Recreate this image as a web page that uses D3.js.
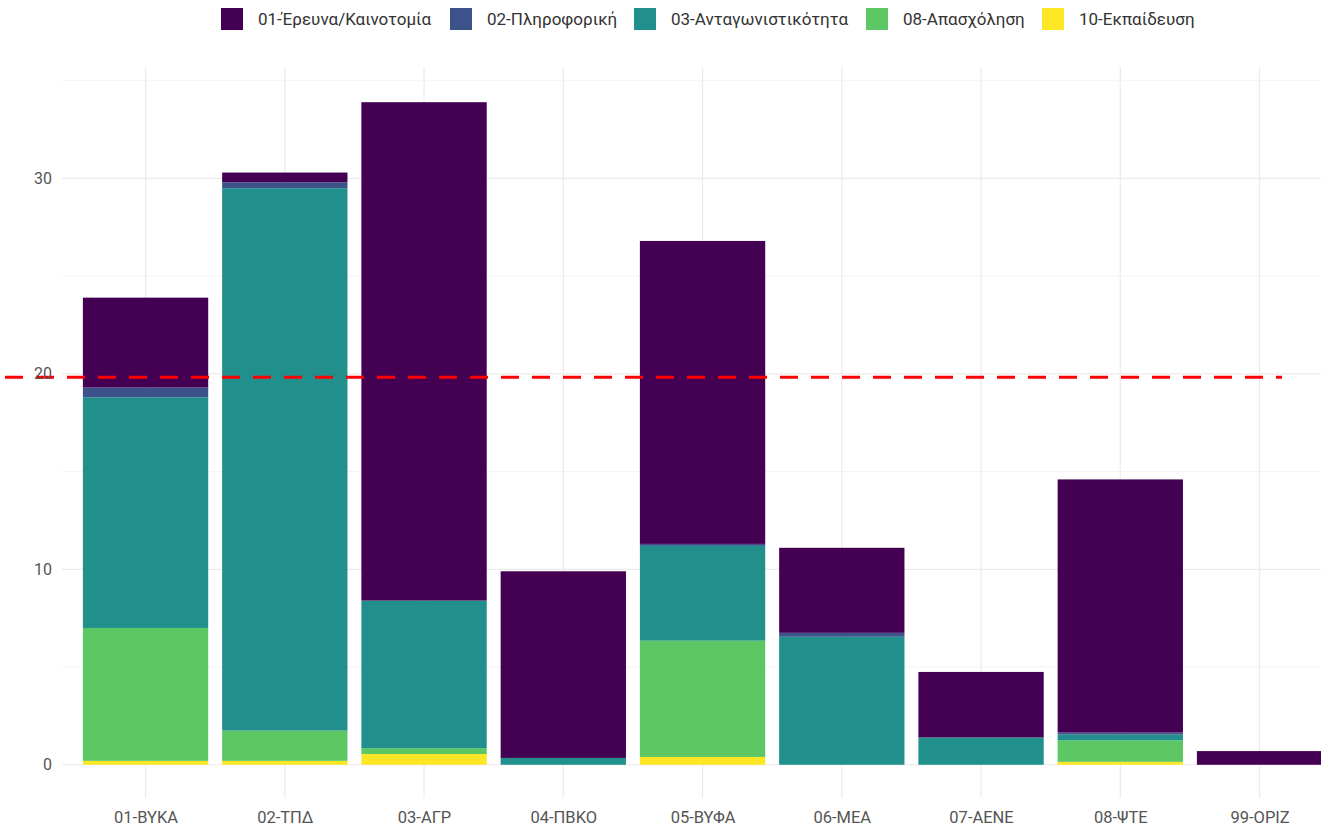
<!DOCTYPE html>
<html>
<head>
<meta charset="utf-8">
<script src="https://cdn.jsdelivr.net/npm/d3@7"></script>
<style>
  html, body { margin: 0; padding: 0; background: #fff; }
  svg { display: block; font-family: Roboto, "Noto Sans", sans-serif; }
</style>
</head>
<body>
<svg id="chart" width="1321" height="832"></svg>
<script>
// ---- data ----
const categories = ["01-ΒΥΚΑ", "02-ΤΠΔ", "03-ΑΓΡ", "04-ΠΒΚΟ", "05-ΒΥΦΑ", "06-ΜΕΑ", "07-ΑΕΝΕ", "08-ΨΤΕ", "99-ΟΡΙΖ"];
const seriesNames = ["01-Έρευνα/Καινοτομία", "02-Πληροφορική", "03-Ανταγωνιστικότητα", "08-Απασχόληση", "10-Εκπαίδευση"];
const seriesColors = ["#440154", "#3B528B", "#21908C", "#5DC863", "#FDE725"];
const research      = [4.6, 0.5, 25.5, 9.55, 15.5, 4.35, 3.35, 12.95, 0.7];
const informatics   = [0.5, 0.3, 0.0, 0.0, 0.1, 0.2, 0.0, 0.1, 0.0];
const competitive   = [11.8, 27.75, 7.55, 0.35, 4.85, 6.55, 1.4, 0.3, 0.0];
const employment    = [6.8, 1.55, 0.3, 0.0, 5.95, 0.0, 0.0, 1.1, 0.0];
const education     = [0.2, 0.2, 0.55, 0.0, 0.4, 0.0, 0.0, 0.15, 0.0];
const yTicks = [0, 10, 20, 30];
const yMinor = [5, 15, 25, 35];
const refLine = 19.83;

// ---- build table ----
const seriesValues = [research, informatics, competitive, employment, education];
const rows = categories.map((c, i) => {
  const r = { cat: c };
  seriesNames.forEach((s, k) => r[s] = seriesValues[k][i]);
  return r;
});
// stack bottom-up: last series at bottom (ggplot order)
const stackKeys = seriesNames.slice().reverse();
const stacked = d3.stack().keys(stackKeys)(rows);
const color = d3.scaleOrdinal().domain(seriesNames).range(seriesColors);

const svg = d3.select("#chart");
const W = 1321, H = 832;
const panel = { left: 62, top: 67, bottom: 798 };
const step = 139.25;

const x = d3.scalePoint().domain(categories)
  .range([panel.left, panel.left + step * 9.2]).padding(0.6);
const bw = step * 0.9;
const y = d3.scaleLinear().domain([-1.7, 35.7]).range([panel.bottom, panel.top]);

const panelRight = W;

// grid
const g = svg.append("g");
g.selectAll(".minor").data(yMinor).join("line")
  .attr("x1", panel.left).attr("x2", panelRight)
  .attr("y1", d => y(d)).attr("y2", d => y(d))
  .attr("stroke", "#f3f3f3").attr("stroke-width", 1);
g.selectAll(".major").data(yTicks).join("line")
  .attr("x1", panel.left).attr("x2", panelRight)
  .attr("y1", d => y(d)).attr("y2", d => y(d))
  .attr("stroke", "#ebebeb").attr("stroke-width", 1.2);
g.selectAll(".vmajor").data(categories).join("line")
  .attr("x1", d => x(d)).attr("x2", d => x(d))
  .attr("y1", panel.top).attr("y2", panel.bottom)
  .attr("stroke", "#ebebeb").attr("stroke-width", 1.2);

// bars
svg.append("g").selectAll("g").data(stacked).join("g")
  .attr("fill", d => color(d.key))
  .selectAll("rect").data(d => d).join("rect")
  .attr("x", d => x(d.data.cat) - bw / 2)
  .attr("width", bw)
  .attr("y", d => y(d[1]))
  .attr("height", d => Math.max(0, y(d[0]) - y(d[1])));

// reference line
svg.append("line")
  .attr("x1", 5).attr("x2", 1282)
  .attr("y1", y(refLine)).attr("y2", y(refLine))
  .attr("stroke", "#ff0000").attr("stroke-width", 3)
  .attr("stroke-dasharray", "18,13");

// y axis labels
const yAxis = d3.axisLeft(y).tickValues(yTicks).tickSize(0).tickPadding(0);
const ya = svg.append("g").attr("transform", `translate(52,0)`).call(yAxis);
ya.select(".domain").remove();
ya.selectAll("text").attr("font-size", 16).attr("fill", "#555")
  .attr("font-family", "Roboto, sans-serif");

// x axis labels
const xAxis = d3.axisBottom(x).tickSize(0).tickPadding(0);
const xa = svg.append("g").attr("transform", `translate(0,811)`).call(xAxis);
xa.select(".domain").remove();
xa.selectAll("text").attr("font-size", 16.5).attr("fill", "#555")
  .attr("font-family", "Roboto, sans-serif");

// legend
const legendX = [221, 450, 634, 866, 1042];
const leg = svg.append("g");
seriesNames.forEach((s, i) => {
  leg.append("rect").attr("x", legendX[i]).attr("y", 8).attr("width", 22).attr("height", 22)
    .attr("fill", seriesColors[i]);
  leg.append("text").attr("x", legendX[i] + 37).attr("y", 19).attr("dy", "0.35em")
    .attr("font-size", 17).attr("fill", "#333").text(s);
});
</script>
</body>
</html>
